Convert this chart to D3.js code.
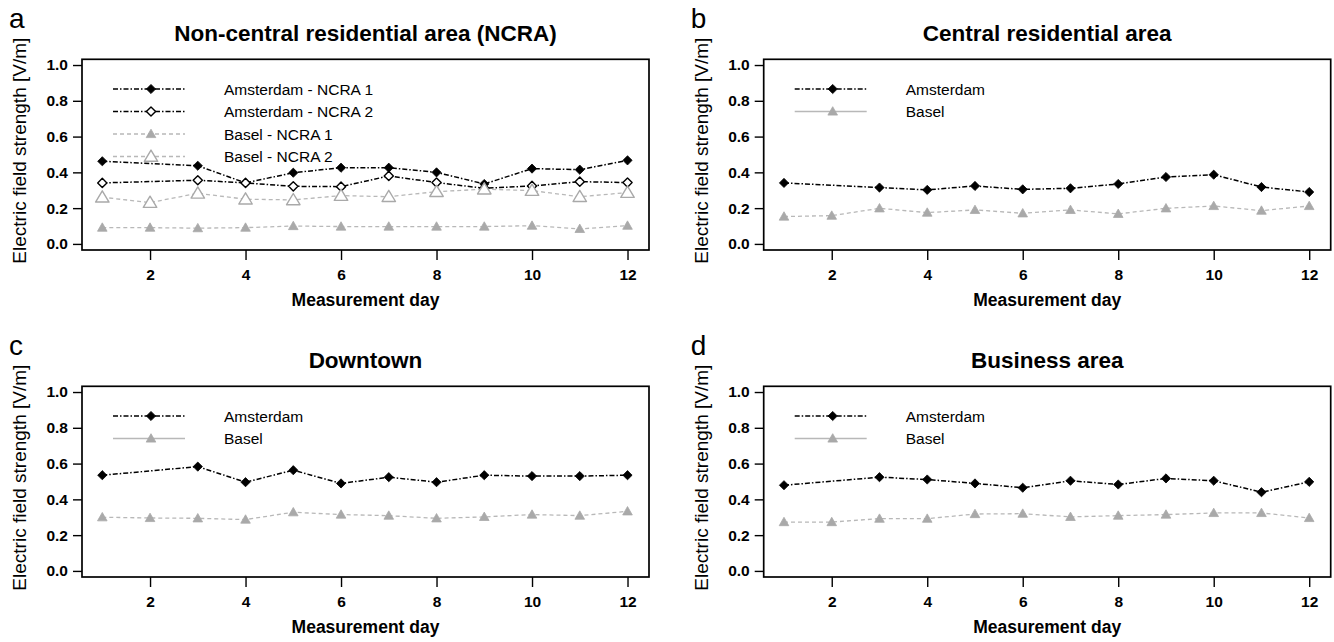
<!DOCTYPE html>
<html><head><meta charset="utf-8">
<script src="https://cdn.jsdelivr.net/npm/d3@7"></script>
<style>
body{margin:0;background:#fff;}
svg{display:block;font-family:"Liberation Sans",Arial,sans-serif;}
</style></head>
<body><svg id="c" width="1334" height="642"></svg>
<script>
const days = [1,2,3,4,5,6,7,8,9,10,11,12];
const yTicks = [0.0,0.2,0.4,0.6,0.8,1.0];
const xTicks = [2,4,6,8,10,12];

// Panel a: Non-central residential area
const amsNCRA1 = [0.462,null,0.437,0.341,0.398,0.426,0.426,0.400,0.335,0.421,0.415,0.467];
const amsNCRA2 = [0.341,null,0.356,0.341,0.322,0.320,0.380,0.343,0.311,0.324,0.348,0.343];
const basNCRA1 = [0.091,0.091,0.088,0.091,0.100,0.097,0.097,0.097,0.097,0.102,0.084,0.102];
const basNCRA2 = [0.261,0.231,0.283,0.250,0.246,0.270,0.264,0.292,0.306,0.298,0.264,0.287];
// Panel b: Central residential area
const amsCentral = [0.341,null,0.315,0.302,0.324,0.305,0.311,0.335,0.374,0.387,0.318,0.290];
const basCentral = [0.153,0.158,0.199,0.175,0.190,0.171,0.190,0.168,0.199,0.212,0.186,0.212];
// Panel c: Downtown
const amsDowntown = [0.535,null,0.583,0.496,0.563,0.489,0.524,0.496,0.535,0.530,0.530,0.535];
const basDowntown = [0.300,0.296,0.294,0.287,0.328,0.315,0.309,0.294,0.302,0.315,0.309,0.333];
// Panel d: Business area
const amsBusiness = [0.479,null,0.524,0.511,0.489,0.465,0.504,0.483,0.517,0.504,0.440,0.498];
const basBusiness = [0.273,0.273,0.292,0.292,0.318,0.320,0.302,0.309,0.315,0.324,0.324,0.296];

const titles = ["Non-central residential area (NCRA)","Central residential area","Downtown","Business area"];
const letters = ["a","b","c","d"];
const yTitle = "Electric field strength [V/m]";
const xTitle = "Measurement day";

const BLACK="#000", GRAY="#a9a9a9", GRAYL="#b8b8b8";
const DASH_A="5,2,1.5,2", DASH_B="4,3";

const styles = {
  amsFilled:{color:BLACK,dash:DASH_A,sym:"diamond",fill:true,lw:1.5},
  amsOpen:{color:BLACK,dash:DASH_A,sym:"diamond",fill:false,lw:1.5},
  basFilled:{color:GRAY,lineColor:GRAYL,dash:DASH_B,sym:"tri",fill:true,lw:1.3},
  basOpen:{color:GRAY,lineColor:GRAYL,dash:DASH_B,sym:"triBig",fill:false,lw:1.3}
};

const panels = [
  {title:titles[0],letter:letters[0],dx:0,dy:0,series:[
    {name:"Amsterdam - NCRA 1",vals:amsNCRA1,st:styles.amsFilled},
    {name:"Amsterdam - NCRA 2",vals:amsNCRA2,st:styles.amsOpen},
    {name:"Basel - NCRA 1",vals:basNCRA1,st:styles.basFilled},
    {name:"Basel - NCRA 2",vals:basNCRA2,st:styles.basOpen}],legendSolidBasel:false},
  {title:titles[1],letter:letters[1],dx:681.7,dy:0,series:[
    {name:"Amsterdam",vals:amsCentral,st:styles.amsFilled},
    {name:"Basel",vals:basCentral,st:styles.basFilled}],legendSolidBasel:true},
  {title:titles[2],letter:letters[2],dx:0,dy:327,series:[
    {name:"Amsterdam",vals:amsDowntown,st:styles.amsFilled},
    {name:"Basel",vals:basDowntown,st:styles.basFilled}],legendSolidBasel:true},
  {title:titles[3],letter:letters[3],dx:681.7,dy:327,series:[
    {name:"Amsterdam",vals:amsBusiness,st:styles.amsFilled},
    {name:"Basel",vals:basBusiness,st:styles.basFilled}],legendSolidBasel:true}
];

const svg = d3.select("#c");
const BOX = {l:82,r:649,t:59.3,b:250};

function symPath(sym){
  if(sym==="diamond"){const s=4.6;return `M0,${-s}L${s},0L0,${s}L${-s},0Z`;}
  if(sym==="tri"){const s=4.8;return `M0,${-s}L${s},${s*0.75}L${-s},${s*0.75}Z`;}
  if(sym==="triBig"){const s=6.4;return `M0,${-s}L${s*1.05},${s*0.75}L${-s*1.05},${s*0.75}Z`;}
}
function drawSym(g,x,y,st){
  g.append("path").attr("d",symPath(st.sym)).attr("transform",`translate(${x},${y})`)
    .attr("fill",st.fill?st.color:"#fff").attr("stroke",st.color)
    .attr("stroke-width",st.fill?0.8:1.4).attr("stroke-linejoin","round");
}

panels.forEach(p=>{
  const g = svg.append("g").attr("transform",`translate(${p.dx},${p.dy})`);
  const x = d3.scaleLinear().domain([0.575,12.45]).range([BOX.l,BOX.r]);
  const y = d3.scaleLinear().domain([-0.034,1.032]).range([BOX.b,BOX.t]);

  g.append("text").attr("x",9).attr("y",28).attr("font-size",28).attr("font-weight",300).text(p.letter);
  g.append("text").attr("x",(BOX.l+BOX.r)/2).attr("y",41).attr("text-anchor","middle")
    .attr("font-size",22.5).attr("font-weight","bold").text(p.title);
  g.append("text").attr("transform",`translate(26,${(BOX.t+BOX.b)/2-4}) rotate(-90)`)
    .attr("text-anchor","middle").attr("font-size",19).text(yTitle);
  g.append("text").attr("x",(BOX.l+BOX.r)/2).attr("y",306).attr("text-anchor","middle")
    .attr("font-size",17.5).attr("font-weight","bold").text(xTitle);

  const yAxis = d3.axisLeft(y).tickValues(yTicks).tickFormat(d3.format(".1f")).tickSize(9).tickPadding(5);
  const ya = g.append("g").attr("transform",`translate(${BOX.l},0)`).call(yAxis);
  ya.select(".domain").remove();
  ya.selectAll("text").attr("font-size",15.5).attr("font-weight","bold").attr("fill","#000")
    .attr("font-family","Liberation Sans, Arial, sans-serif");
  ya.selectAll("line").attr("stroke","#000").attr("stroke-width",1.4);

  const xAxis = d3.axisBottom(x).tickValues(xTicks).tickSize(10).tickPadding(9);
  const xa = g.append("g").attr("transform",`translate(0,${BOX.b})`).call(xAxis);
  xa.select(".domain").remove();
  xa.selectAll("text").attr("font-size",15.5).attr("font-weight","bold").attr("fill","#000")
    .attr("font-family","Liberation Sans, Arial, sans-serif");
  xa.selectAll("line").attr("stroke","#000").attr("stroke-width",1.4);

  p.series.forEach(s=>{
    const pts = days.map((d,i)=>({d,v:s.vals[i]})).filter(o=>o.v!==null);
    const line = d3.line().x(o=>x(o.d)).y(o=>y(o.v));
    g.append("path").datum(pts).attr("d",line).attr("fill","none")
      .attr("stroke",s.st.lineColor||s.st.color).attr("stroke-width",s.st.lw)
      .attr("stroke-dasharray",s.st.dash);
    pts.forEach(o=>drawSym(g,x(o.d),y(o.v),s.st));
  });

  p.series.forEach((s,i)=>{
    const ly = 89 + i*22.5;
    const isBas = s.st.sym!=="diamond";
    const solid = isBas && p.legendSolidBasel;
    g.append("line").attr("x1",BOX.l+31).attr("x2",BOX.l+103).attr("y1",ly).attr("y2",ly)
      .attr("stroke",s.st.lineColor||s.st.color).attr("stroke-width",s.st.lw)
      .attr("stroke-dasharray",solid?null:s.st.dash);
    drawSym(g,BOX.l+69,ly,s.st);
    g.append("text").attr("x",BOX.l+142).attr("y",ly+5.5).attr("font-size",15.5).text(s.name);
  });

  g.append("rect").attr("x",BOX.l).attr("y",BOX.t).attr("width",BOX.r-BOX.l).attr("height",BOX.b-BOX.t)
    .attr("fill","none").attr("stroke","#000").attr("stroke-width",1.7);
});
</script></body></html>
